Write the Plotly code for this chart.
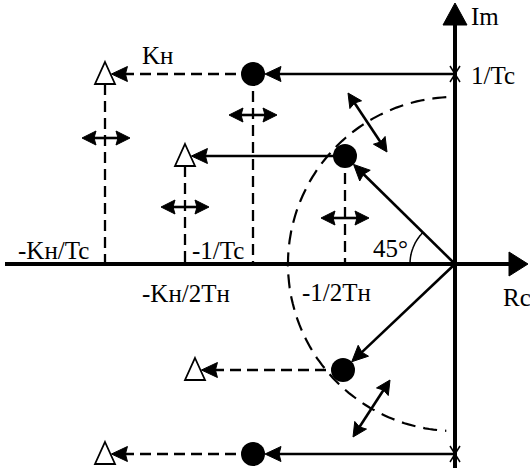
import numpy as np
import plotly.graph_objects as go

# ---- diagram data (origin = crossing of Re and Im axes, 1 unit = 1 px) ----
pole_x = [-202, -110, -112, -202]          # filled circles (closed-loop poles)
pole_y = [190, 108, -106, -190]
tri_x = [-350, -270, -260, -350]           # open triangles (shifted poles)
tri_y = [190, 108, -106, -190]
zero_y = [190, -190]                       # crosses on Im axis (1/Tc, -1/Tc)
shift_x = [-349, -202, -270, -110]         # horizontal double arrows
shift_y = [126, 149, 57, 46]
diag_x0 = [-107, -65]                      # diagonal double arrows
diag_y0 = [171, -116]
diag_x1 = [-68, -102]
diag_y1 = [112, -173]
arc_radius = 167
angle_radius = 45
labels = ["Im", "1/Tc", "Rc", "45°", "-Kн/Tc", "-1/Tc", "-Kн/2Tн", "Kн", "-1/2Tн"]
label_x = [30, 38, 62, -65, -402, -237, -269, -298, -119]
label_y = [248, 189, -33, 16, 14, 14, -29, 209, -28]

X_RANGE = [-455, 75]
Y_RANGE = [-204, 264]
POLE_R = 12
TRI_HALF_W, TRI_UP, TRI_DOWN = 10, 12, 10

shapes = []


def seg(x0, y0, x1, y1, width=2.0, dash="solid"):
    shapes.append(dict(type="line", xref="x", yref="y", x0=x0, y0=y0, x1=x1, y1=y1,
                       line=dict(color="black", width=width, dash=dash), layer="below"))


def head(tx, ty, ux, uy, L=16, W=7.5, notch=2):
    n = np.hypot(ux, uy)
    ux, uy = ux / n, uy / n
    px, py = -uy, ux
    bx, by = tx - L * ux, ty - L * uy
    nx, ny = tx - (L - notch) * ux, ty - (L - notch) * uy
    path = (f"M{tx},{ty} L{bx + W * px},{by + W * py} L{nx},{ny} "
            f"L{bx - W * px},{by - W * py} Z")
    shapes.append(dict(type="path", xref="x", yref="y", path=path, fillcolor="black",
                       line=dict(color="black", width=1), layer="below"))


def arrow(x0, y0, x1, y1, width=2.6, dash="solid", L=16, W=7.5, both=False):
    ux, uy = x1 - x0, y1 - y0
    n = np.hypot(ux, uy)
    ex, ey = ux / n, uy / n
    sx, sy = (x0 + (L - 3) * ex, y0 + (L - 3) * ey) if both else (x0, y0)
    seg(sx, sy, x1 - (L - 3) * ex, y1 - (L - 3) * ey, width, dash)
    head(x1, y1, ux, uy, L, W)
    if both:
        head(x0, y0, -ux, -uy, L, W)


# axes
seg(X_RANGE[0] + 5, 0, X_RANGE[1] - 2 - 16, 0, width=4)
head(X_RANGE[1] - 2, 0, 1, 0, L=19, W=12, notch=0)
seg(0, Y_RANGE[0], 0, Y_RANGE[1] - 3 - 18, width=4)
head(0, Y_RANGE[1] - 3, 0, 1, L=22, W=12, notch=0)

# crosses on Im axis
for zy in zero_y:
    seg(-5, zy - 8, 5, zy + 8, width=1.5)
    seg(-5, zy + 8, 5, zy - 8, width=1.5)

# dashed arc (radius around origin)
theta = np.linspace(np.deg2rad(93), np.deg2rad(267), 120)
arc_path = "M" + " L".join(f"{arc_radius * np.cos(t):.1f},{arc_radius * np.sin(t):.1f}" for t in theta)
shapes.append(dict(type="path", xref="x", yref="y", path=arc_path,
                   line=dict(color="black", width=2.2, dash="14px,8px"), layer="below"))

# 45 degree angle arc
theta2 = np.linspace(np.deg2rad(135), np.deg2rad(180), 30)
ang_path = "M" + " L".join(f"{angle_radius * np.cos(t):.1f},{angle_radius * np.sin(t):.1f}" for t in theta2)
shapes.append(dict(type="path", xref="x", yref="y", path=ang_path,
                   line=dict(color="black", width=1.5), layer="below"))

DASH = "11px,6px"

# dashed vertical drop lines
seg(tri_x[0], tri_y[0] - TRI_DOWN, tri_x[0], 0, 2.3, DASH)
seg(tri_x[1], tri_y[1] - TRI_DOWN, tri_x[1], 0, 2.3, DASH)
seg(pole_x[0], pole_y[0], pole_x[0], 0, 2.3, DASH)
seg(pole_x[1], pole_y[1], pole_x[1], 0, 2.3, DASH)

# solid arrows: from zeros / origin to poles
arrow(0, zero_y[0], pole_x[0] + POLE_R, pole_y[0])
arrow(0, zero_y[1], pole_x[3] + POLE_R, pole_y[3])
for i in (1, 2):
    d = np.hypot(pole_x[i], pole_y[i])
    arrow(0, 0, pole_x[i] * (1 - POLE_R / d), pole_y[i] * (1 - POLE_R / d))

# arrows from poles to triangles
tip_off = TRI_HALF_W * TRI_UP / (TRI_UP + TRI_DOWN) + 1
arrow(pole_x[1], pole_y[1], tri_x[1] + tip_off, tri_y[1])
for i in (0, 2, 3):
    arrow(pole_x[i], pole_y[i], tri_x[i] + tip_off, tri_y[i], width=2.4, dash=DASH)

# double arrows
for sx, sy in zip(shift_x, shift_y):
    arrow(sx - 24, sy, sx + 24, sy, width=2.6, L=14, W=7, both=True)
for a, b, c, d in zip(diag_x0, diag_y0, diag_x1, diag_y1):
    arrow(a, b, c, d, width=2.6, L=14, W=7, both=True)

# triangles (white filled)
for tx, ty in zip(tri_x, tri_y):
    path = (f"M{tx},{ty + TRI_UP} L{tx + TRI_HALF_W},{ty - TRI_DOWN} "
            f"L{tx - TRI_HALF_W},{ty - TRI_DOWN} Z")
    shapes.append(dict(type="path", xref="x", yref="y", path=path, fillcolor="white",
                       line=dict(color="black", width=1.8), layer="below"))

fig = go.Figure()
fig.add_trace(go.Scatter(x=pole_x, y=pole_y, mode="markers",
                         marker=dict(size=2 * POLE_R, color="black", line=dict(width=0)),
                         hoverinfo="skip", showlegend=False))

annotations = [dict(x=x, y=y, text=t, showarrow=False, xref="x", yref="y",
                    font=dict(family="Liberation Serif", size=25, color="black"))
               for t, x, y in zip(labels, label_x, label_y)]

fig.update_layout(
    width=530, height=468,
    margin=dict(l=0, r=0, t=0, b=0),
    paper_bgcolor="white", plot_bgcolor="white",
    xaxis=dict(range=X_RANGE, visible=False, fixedrange=True),
    yaxis=dict(range=Y_RANGE, visible=False, fixedrange=True),
    shapes=shapes, annotations=annotations, showlegend=False,
)
fig.write_html(
    "out.html",
    config={"displayModeBar": False},
    post_script="document.body.style.margin='0';document.body.style.overflow='hidden';",
)
